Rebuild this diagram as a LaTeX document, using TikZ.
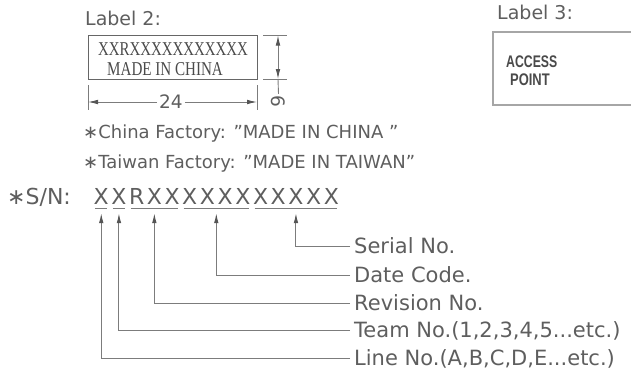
\documentclass[tikz,border=0pt]{standalone}
\usepackage{fontspec}
\setmainfont{DejaVu Sans}
\newfontfamily\boxserif{Liberation Serif}
\newfontfamily\boxsans{Liberation Sans}
\usetikzlibrary{arrows.meta,calc}
\definecolor{Ink}{HTML}{5E5E5E}
\definecolor{Wire}{HTML}{7C7C7C}
\definecolor{Frame}{HTML}{666666}
\definecolor{Pale}{HTML}{A6A6A6}
\definecolor{Print}{HTML}{4A4A4A}
\definecolor{Tip}{HTML}{555555}
\newcommand{\snchar}[1]{\makebox[17.7pt]{#1}}

\begin{document}
\begin{tikzpicture}[x=1pt,y=-1pt,
  txt/.style={inner sep=0pt,text=Ink,font=\fontsize{19}{19}\selectfont,anchor=base west},
  note/.style={txt,font=\fontsize{18}{18}\selectfont},
  tag/.style={inner sep=4pt,text height=15pt,text depth=0pt,text=Ink,font=\fontsize{21}{21}\selectfont,anchor=west},
  sngroup/.style={inner sep=0pt,text=Ink,font=\fontsize{22}{22}\selectfont,anchor=base west},
  printed/.style={inner sep=0pt,text=Print,anchor=base west},
  dimline/.style={draw=Wire,line width=0.9pt},
  dimarrow/.style={dimline,-{Latex[length=10pt,width=4.6pt,color=Tip]}},
  leader/.style={draw=Wire,line width=1pt,-{Latex[length=10pt,width=4.6pt,color=Tip]}}
]
\useasboundingbox (0,0) rectangle (631,373);

% label 2 with its dimensions
\node[txt] (title2) at (85,25) {Label 2:};
\node[draw=Frame,line width=1pt,anchor=north west,minimum width=169pt,minimum height=44pt,inner sep=0pt] (label2) at (88,35) {};
\node[printed,font=\boxserif\fontsize{19.6}{19.6}\selectfont] (snprint) at (98,55) {\scalebox{0.76}[1]{XXRXXXXXXXXXXX}};
\node[printed,font=\boxserif\fontsize{19.6}{19.6}\selectfont] (madein) at (107,75) {\scalebox{0.77}[1]{MADE IN CHINA}};

\draw[dimline] (88,85) -- (88,110);
\draw[dimline] (257,85) -- (257,110);
\coordinate (hdimL) at (88,102);
\coordinate (hdimR) at (257,102);
\node[inner sep=2pt,text=Ink,font=\fontsize{18.5}{18.5}\selectfont] (w24) at (171,102) {24};
\draw[dimarrow] (w24.west) -- (hdimL);
\draw[dimarrow] (w24.east) -- (hdimR);

\draw[dimline] (263,35.5) -- (287,35.5);
\draw[dimline] (263,79) -- (287,79);
\coordinate (vtop) at (278,35.5);
\coordinate (vbot) at (278,79);
\node[inner sep=1pt,rotate=-90,text=Ink,font=\fontsize{18.5}{18.5}\selectfont] (h6) at (278.5,101) {6};
\draw[dimline,{Latex[length=10pt,width=4.6pt,color=Tip]}-{Latex[length=10pt,width=4.6pt,color=Tip]}] (vtop) -- (vbot);
\draw[dimline] (vbot) -- (h6.west);

% label 3
\node[txt] (title3) at (497,19) {Label 3:};
\draw[draw=Pale,line width=1.4pt] (631,32) -| (493,105) -- (631,105);
\node[printed,font=\boxsans\bfseries\fontsize{16.8}{16.8}\selectfont] (ap1) at (506,67) {\scalebox{0.73}[1]{ACCESS}};
\node[printed,font=\boxsans\bfseries\fontsize{16.8}{16.8}\selectfont] (ap2) at (510,85) {\scalebox{0.77}[1]{POINT}};

% factory notes
\node[note] (china) at (83,138) {∗China Factory: "MADE IN CHINA "};
\node[note] (taiwan) at (83,168) {∗Taiwan Factory: "MADE IN TAIWAN"};

% serial number
\node[sngroup] (snkey) at (7,204) {∗S/N:};
\node[sngroup] (g1) at (92.2,204) {\snchar{X}};
\node[sngroup] (g2) at (109.9,204) {\snchar{X}};
\node[sngroup] (g3) at (127.6,204) {\snchar{R}\snchar{X}\snchar{X}};
\node[sngroup] (g4) at (180.7,204) {\snchar{X}\snchar{X}\snchar{X}\snchar{X}};
\node[sngroup] (g5) at (251.5,204) {\snchar{X}\snchar{X}\snchar{X}\snchar{X}\snchar{X}};
\foreach \g in {g1,g2,g3,g4,g5}
  \draw[draw=Wire,line width=1.4pt] ([xshift=3pt,yshift=-4.5pt]\g.south west) -- ([xshift=-3pt,yshift=-4.5pt]\g.south east);

\node[tag] (serial) at (350,246) {Serial No.};
\node[tag] (date) at (350,275) {Date Code.};
\node[tag] (revision) at (350,303) {Revision No.};
\node[tag] (team) at (350,330) {Team No.(1,2,3,4,5...etc.)};
\node[tag] (lineno) at (350,358) {Line No.(A,B,C,D,E...etc.)};

\draw[leader] (serial.west) -| ([yshift=-9pt]g5.south);
\draw[leader] (date.west) -| ([yshift=-9pt]g4.south);
\draw[leader] (revision.west) -| ([yshift=-9pt]g3.south);
\draw[leader] (team.west) -| ([yshift=-9pt]g2.south);
\draw[leader] (lineno.west) -| ([yshift=-9pt]g1.south);
\end{tikzpicture}
\end{document}
